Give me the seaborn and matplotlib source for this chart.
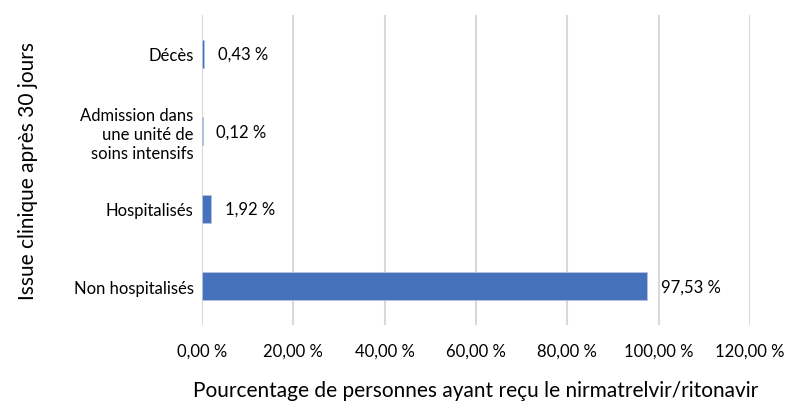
import matplotlib
matplotlib.use('Agg')
import matplotlib.pyplot as plt
import seaborn as sns
import pandas as pd

categories = ['Décès', 'Admission dans\nune unité de\nsoins intensifs', 'Hospitalisés', 'Non hospitalisés']
values = [0.43, 0.12, 1.92, 97.53]
x_ticks = [0, 20, 40, 60, 80, 100, 120]

df = pd.DataFrame({'issue': categories, 'pct': values})

sns.set_theme(style='white')
plt.rcParams['font.family'] = ['Lato', 'DejaVu Sans']

fig = plt.figure(figsize=(7.92, 4.14), dpi=100)
ax = fig.add_axes([0.255, 0.2126, 0.692, 0.749])

sns.barplot(data=df, x='pct', y='issue', orient='h', color='#4672BC',
            width=0.36, saturation=1, edgecolor='#b4c3e0', linewidth=0.6, ax=ax)

# value labels to the right of each bar
for i, v in enumerate(values):
    ax.annotate(f"{v:.2f} %".replace('.', ','), xy=(v, i), xytext=(10, 0),
                textcoords='offset points', ha='left', va='center',
                fontsize=12, color='black')

ax.set_xlim(0, 120)
ax.set_ylim(3.5, -0.5)
ax.set_xticks(x_ticks)
ax.set_xticklabels([f"{t:.2f} %".replace('.', ',') for t in x_ticks])
ax.xaxis.grid(True, color='#d9d9d9', linewidth=1.5)
ax.set_axisbelow(True)
for s in ax.spines.values():
    s.set_visible(False)
ax.tick_params(axis='x', length=0, pad=13, labelsize=12, colors='black')
ax.tick_params(axis='y', length=0, pad=6, labelsize=12, colors='black')
for lbl in ax.get_yticklabels():
    lbl.set_horizontalalignment('right')
    lbl.set_multialignment('right')

ax.set_xlabel('Pourcentage de personnes ayant reçu le nirmatrelvir/ritonavir', fontsize=15, color='black')
ax.set_ylabel('Issue clinique après 30 jours', fontsize=15, color='black')
ax.xaxis.set_label_coords(0.5, -0.178)
ax.yaxis.set_label_coords(-0.3, 0.5)

fig.savefig('out.png', dpi=100)
